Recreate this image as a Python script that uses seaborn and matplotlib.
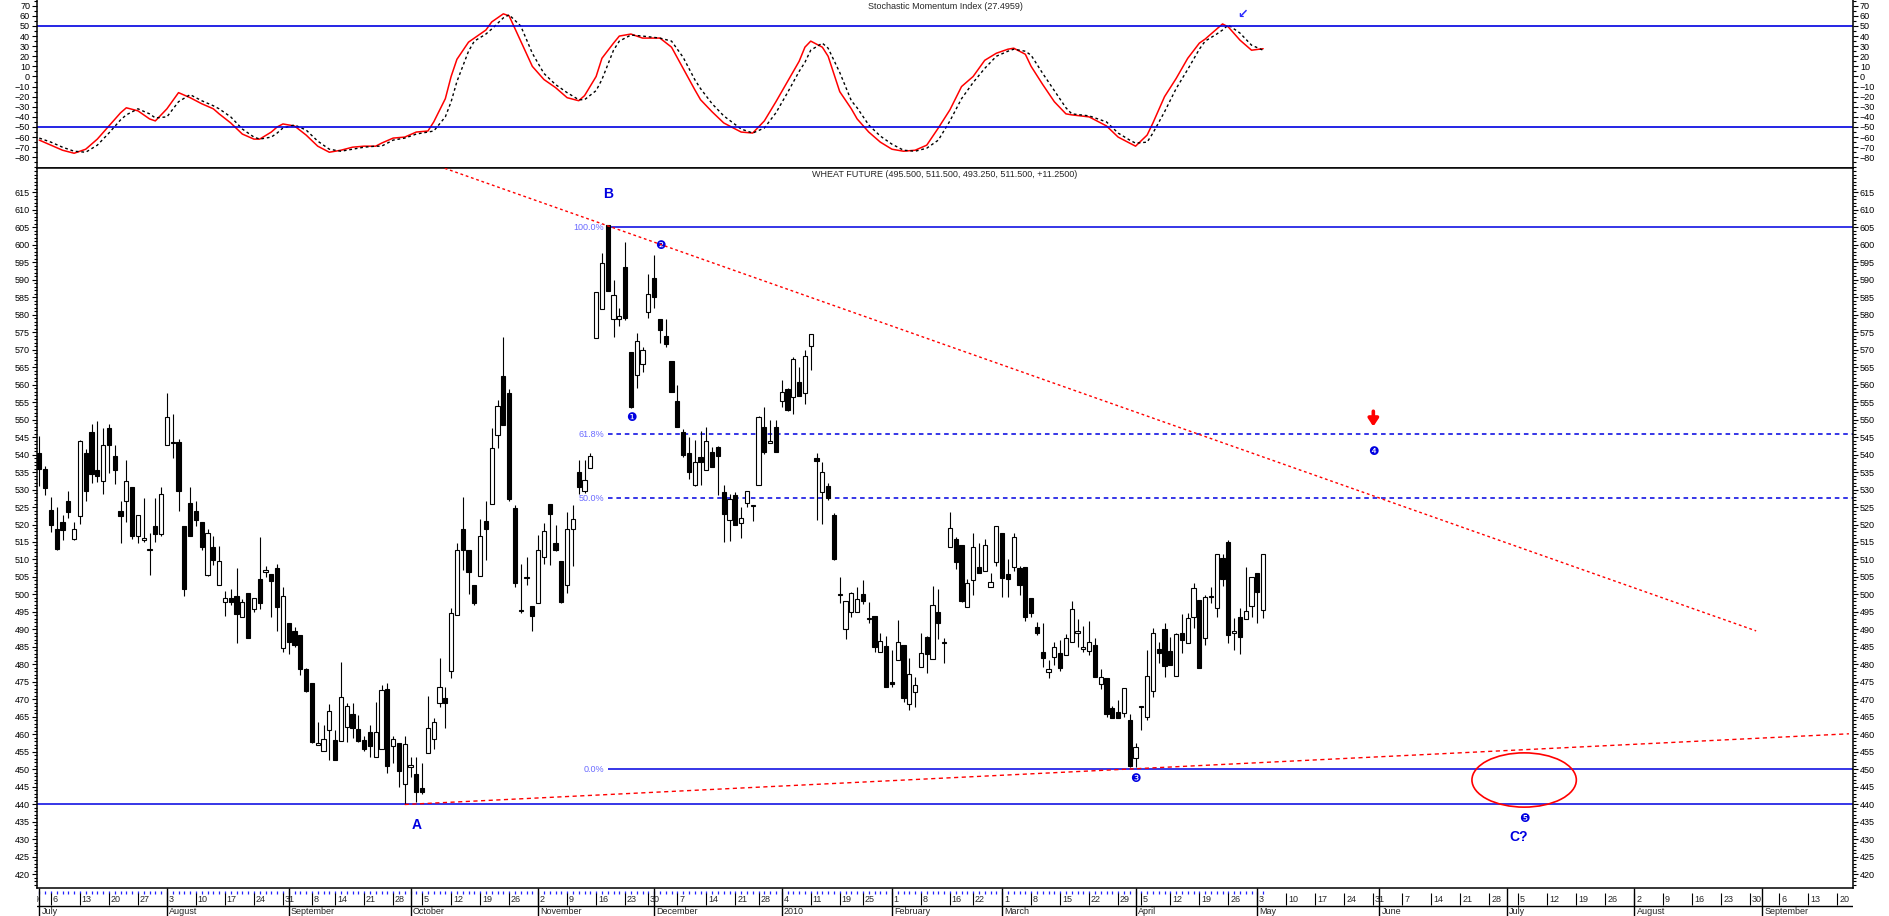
import numpy as np
import pandas as pd
import matplotlib
matplotlib.use("Agg")
import matplotlib.pyplot as plt
from matplotlib.ticker import MultipleLocator
from matplotlib.patches import Ellipse
import seaborn as sns

# =============================================================================
# DATA
# =============================================================================

# daily bars, Wheat future, 2009-07-01 .. 2010-05-04
open_ = [540.3, 535.9, 524.1, 518.6, 520.7, 526.7, 515.9, 522.5, 540.4, 546.4,
         535.6, 532.5, 547.6, 539.6, 523.9, 526.6, 530.6, 516.6, 515.5, 512.6,
         519.5, 517.3, 542.6, 543.5, 543.5, 519.5, 526.1, 523.9, 520.7, 505.5,
         513.5, 502.6, 497.8, 498.9, 499.7, 493.5, 500.3, 495.8, 504.3, 506.3,
         505.9, 507.6, 484.7, 491.8, 489.5, 488.3, 478.6, 474.6, 457.1, 455.3,
         461.3, 458.4, 458.1, 462.0, 465.9, 461.5, 458.4, 460.7, 453.5, 455.9,
         473.0, 456.7, 457.5, 445.8, 450.7, 448.6, 444.7, 454.6, 458.6, 468.9,
         470.3, 478.0, 494.1, 518.6, 512.7, 502.7, 505.3, 521.0, 525.9, 545.6,
         562.4, 557.5, 524.6, 495.3, 504.6, 496.8, 497.7, 510.8, 526.0, 514.6,
         509.6, 502.7, 518.7, 534.9, 529.6, 536.1, 573.2, 581.5, 605.6, 578.6,
         578.7, 593.5, 569.4, 562.7, 566.0, 580.6, 590.3, 578.6, 573.9, 566.7,
         555.3, 546.5, 540.3, 531.3, 539.2, 535.6, 540.8, 542.2, 529.2, 521.3,
         528.4, 520.3, 526.2, 525.3, 531.3, 547.8, 543.2, 547.9, 555.3, 558.6,
         556.3, 560.8, 557.5, 571.0, 538.9, 529.2, 531.0, 522.7, 499.9, 490.1,
         494.9, 494.9, 500.1, 492.9, 493.9, 483.5, 485.3, 475.1, 481.3, 485.6,
         468.7, 472.0, 479.2, 487.8, 481.5, 495.1, 486.2, 513.5, 515.8, 514.1,
         496.3, 504.1, 507.8, 506.7, 502.2, 509.2, 517.5, 505.8, 507.8, 507.5,
         507.8, 498.9, 490.6, 483.7, 477.9, 482.2, 483.2, 482.7, 486.5, 488.9,
         484.4, 483.9, 485.6, 474.4, 476.0, 467.5, 466.3, 466.0, 464.1, 453.4,
         467.8, 465.1, 472.5, 484.4, 490.0, 483.9, 476.8, 489.1, 486.0, 493.5,
         498.4, 487.5, 499.2, 496.0, 510.3, 514.9, 488.9, 493.5, 492.9, 496.7,
         506.2, 495.5]
high = [545.3, 536.7, 527.9, 525.1, 522.7, 529.6, 520.6, 544.1, 541.5, 548.7,
        549.6, 547.5, 548.7, 542.7, 526.7, 538.4, 530.6, 522.6, 527.6, 517.5,
        527.6, 530.7, 557.6, 551.6, 544.4, 519.5, 530.7, 526.7, 520.7, 518.6,
        516.7, 513.8, 501.0, 501.6, 507.6, 498.7, 500.3, 498.9, 516.5, 508.1,
        505.9, 508.7, 502.1, 491.8, 490.8, 488.3, 478.9, 474.6, 463.7, 462.7,
        468.6, 461.3, 480.6, 468.9, 469.1, 465.6, 459.6, 462.7, 469.3, 474.1,
        474.8, 459.6, 457.5, 459.6, 453.7, 453.7, 451.8, 471.0, 464.6, 481.8,
        473.7, 496.0, 514.6, 527.9, 512.7, 502.7, 521.5, 526.8, 547.5, 555.6,
        573.7, 558.6, 525.6, 508.7, 510.6, 496.8, 517.0, 520.3, 526.0, 519.9,
        509.6, 523.7, 525.6, 538.4, 538.4, 540.5, 586.5, 597.5, 605.6, 590.0,
        581.8, 600.6, 569.4, 574.8, 570.6, 591.5, 596.9, 578.6, 578.6, 566.7,
        559.9, 547.2, 545.1, 544.1, 546.8, 547.9, 542.2, 542.5, 531.3, 528.7,
        529.2, 525.1, 529.7, 525.3, 551.0, 553.7, 550.0, 550.0, 561.3, 558.9,
        567.9, 564.9, 569.9, 574.3, 540.3, 537.9, 531.8, 523.2, 504.9, 498.2,
        500.6, 502.0, 504.1, 497.8, 493.9, 488.9, 488.1, 484.0, 492.7, 485.6,
        481.8, 476.3, 488.9, 488.1, 502.4, 501.6, 487.5, 523.6, 516.5, 514.1,
        504.3, 517.5, 514.6, 515.8, 506.0, 519.7, 517.5, 510.0, 517.5, 508.0,
        507.8, 498.9, 492.0, 491.8, 481.3, 486.3, 487.0, 488.7, 498.2, 492.9,
        491.0, 492.4, 487.5, 478.6, 476.0, 468.1, 469.9, 473.2, 465.8, 457.5,
        468.0, 484.0, 490.3, 486.3, 491.9, 487.8, 489.1, 494.3, 494.6, 503.2,
        498.4, 499.9, 502.0, 511.5, 511.5, 515.6, 493.2, 496.0, 507.8, 505.1,
        506.2, 511.5]
low = [531.0, 528.4, 517.9, 512.7, 515.6, 521.9, 515.6, 520.1, 526.7, 532.0,
       532.2, 528.7, 534.7, 531.6, 514.8, 520.8, 515.8, 514.8, 514.9, 505.6,
       515.1, 516.8, 542.6, 539.1, 523.9, 499.6, 516.8, 519.7, 512.7, 505.3,
       508.5, 502.6, 493.9, 497.0, 486.2, 493.5, 487.6, 495.1, 495.8, 505.1,
       493.6, 489.7, 483.7, 482.9, 485.1, 477.0, 472.2, 457.6, 457.1, 455.3,
       452.7, 452.7, 458.1, 457.8, 458.9, 457.8, 455.4, 453.7, 453.5, 455.9,
       448.9, 451.8, 444.9, 440.0, 447.8, 440.6, 442.9, 454.6, 455.9, 467.8,
       461.8, 476.0, 494.1, 507.0, 500.0, 497.0, 505.3, 509.9, 525.9, 541.8,
       548.4, 526.8, 502.2, 494.8, 502.7, 489.7, 497.7, 508.7, 508.4, 512.5,
       497.5, 500.3, 508.2, 528.7, 528.9, 536.1, 573.2, 581.5, 586.8, 573.7,
       576.8, 578.4, 553.2, 558.9, 563.7, 578.9, 581.8, 571.8, 570.8, 557.8,
       547.8, 539.4, 533.0, 531.0, 531.3, 535.6, 536.5, 528.4, 514.9, 515.4,
       519.9, 516.2, 524.9, 521.1, 531.3, 540.1, 543.2, 540.8, 553.7, 552.4,
       551.5, 556.8, 554.3, 564.1, 521.3, 520.1, 527.0, 509.9, 497.5, 487.2,
       493.5, 494.9, 497.2, 491.9, 483.7, 483.5, 473.5, 473.7, 481.3, 469.4,
       467.0, 467.8, 479.2, 477.5, 481.5, 487.2, 480.5, 513.5, 507.2, 497.9,
       496.3, 499.9, 506.0, 506.7, 502.2, 508.0, 499.4, 499.4, 506.8, 499.9,
       492.5, 493.5, 488.4, 479.2, 476.0, 479.9, 478.0, 482.7, 486.5, 485.1,
       483.7, 482.7, 476.3, 472.9, 464.9, 464.6, 464.6, 465.1, 450.8, 450.8,
       461.3, 464.1, 470.8, 480.3, 476.5, 479.9, 476.8, 483.4, 486.0, 490.3,
       478.9, 485.6, 497.5, 493.7, 502.4, 486.0, 484.0, 483.0, 492.9, 493.7,
       491.9, 493.25]
close = [535.9, 530.5, 519.8, 513.0, 518.5, 523.7, 518.6, 543.8, 529.6, 534.5,
         534.0, 542.6, 542.7, 535.7, 522.5, 532.5, 516.8, 522.6, 516.0, 512.6,
         517.2, 528.6, 550.6, 543.3, 529.6, 501.7, 516.8, 521.4, 513.7, 517.5,
         509.9, 509.5, 498.9, 497.8, 494.5, 497.8, 487.6, 498.9, 497.6, 507.0,
         503.9, 496.5, 499.5, 486.5, 485.6, 478.6, 472.5, 457.9, 457.2, 458.6,
         466.6, 452.7, 470.8, 468.1, 461.8, 458.1, 455.8, 456.8, 460.7, 472.7,
         451.1, 458.7, 449.7, 457.3, 451.2, 443.7, 443.7, 461.8, 463.5, 473.7,
         468.9, 494.6, 512.7, 512.7, 506.5, 497.7, 516.7, 518.6, 542.0, 554.0,
         548.4, 527.3, 503.2, 495.3, 504.6, 493.9, 512.7, 518.0, 522.9, 512.7,
         497.9, 518.6, 521.5, 530.6, 532.7, 539.6, 586.5, 594.6, 586.8, 585.5,
         579.6, 578.9, 553.7, 572.5, 570.0, 586.0, 584.9, 575.6, 571.6, 557.9,
         547.8, 539.8, 534.9, 537.9, 537.9, 543.9, 536.5, 539.6, 522.9, 527.2,
         519.9, 521.9, 529.7, 525.3, 550.6, 540.8, 543.9, 540.8, 557.8, 552.7,
         567.2, 556.8, 568.1, 574.3, 538.1, 535.1, 527.7, 510.1, 499.9, 498.2,
         500.5, 498.6, 498.0, 492.9, 485.1, 486.8, 473.5, 474.4, 486.5, 470.3,
         477.3, 474.0, 483.2, 482.9, 496.9, 491.9, 486.2, 518.9, 509.4, 498.2,
         503.2, 513.5, 506.2, 514.0, 503.5, 519.7, 504.8, 504.3, 516.5, 502.7,
         493.5, 494.6, 489.1, 481.8, 478.6, 485.1, 478.9, 487.5, 495.8, 489.6,
         484.9, 486.5, 476.3, 476.3, 465.9, 464.8, 464.8, 473.2, 451.0, 456.3,
         467.8, 476.8, 488.9, 483.2, 479.7, 479.9, 488.6, 487.0, 493.2, 501.8,
         478.9, 499.2, 499.2, 511.5, 504.3, 488.4, 489.7, 487.8, 495.4, 505.1,
         500.8, 511.5]

first_bar = "2009-07-01"
holidays = ["2009-07-03", "2009-09-07", "2009-11-26", "2009-12-25",
            "2010-01-01", "2010-01-18", "2010-02-15", "2010-04-02"]

# stochastic momentum index, sampled by bar number
smi_bar = [0, 2, 4, 6, 8, 10, 12, 14, 15, 17, 19, 20, 22, 24, 26, 28, 30, 31,
           33, 35, 37, 38, 40, 41, 42, 44, 46, 48, 50, 52, 54, 56, 58, 59, 61,
           63, 65, 67, 68, 70, 71, 72, 74, 75, 77, 78, 80, 81, 83, 85, 87, 89,
           91, 93, 94, 96, 97, 99, 100, 102, 104, 107, 109, 111, 113, 114, 116,
           118, 121, 123, 125, 127, 129, 131, 132, 133, 135, 136, 138, 140, 141,
           143, 145, 147, 149, 151, 153, 155, 157, 159, 161, 163, 165, 167, 168,
           170, 171, 173, 175, 177, 178, 181, 184, 186, 188, 189, 191, 192, 194,
           196, 198, 200, 201, 203, 204, 205, 207, 209, 211]
smi_line = [-63, -68, -73, -76, -72, -62, -49, -36, -31, -34, -42, -44, -32,
            -16, -21, -27, -32, -37, -46, -57, -62, -62, -55, -50, -47, -49,
            -58, -69, -75, -73, -70, -69, -69, -66, -61, -60, -55, -54, -45,
            -22, 0, 17, 34, 38, 46, 54, 62, 60, 35, 10, -3, -11, -21, -24, -19,
            0, 18, 33, 40, 42, 38, 38, 29, 8, -13, -23, -35, -46, -55, -56,
            -44, -25, -5, 15, 29, 35, 29, 20, -15, -32, -42, -55, -65, -72,
            -74, -73, -68, -51, -33, -10, 0, 16, 23, 27, 28, 22, 10, -8, -25,
            -37, -38, -40, -49, -60, -66, -69, -58, -46, -20, -2, 18, 33, 37,
            47, 52, 49, 36, 26, 27.5]
smi_signal = [-61, -65, -70, -74, -75, -68, -56, -43, -38, -32, -37, -41, -40,
              -25, -18, -24, -29, -32, -40, -52, -60, -62, -60, -56, -51, -48,
              -53, -64, -72, -74, -72, -70, -69, -69, -63, -61, -57, -55, -54,
              -40, -25, -5, 25, 35, 42, 47, 58, 61, 50, 23, 3, -8, -16, -23,
              -23, -14, -3, 26, 35, 41, 40, 38, 35, 19, -3, -12, -27, -39, -52,
              -56, -51, -36, -16, 5, 14, 26, 33, 28, 4, -24, -31, -48, -59, -67,
              -73, -74, -71, -63, -44, -22, -6, 8, 20, 25, 27, 25, 21, 3, -14,
              -31, -37, -39, -45, -56, -63, -66, -65, -56, -35, -12, 7, 27, 35,
              42, 46, 51, 43, 31, 26]
smi_bands = [50, -50]
smi_ticks = list(range(-80, 71, 10))

# fibonacci retracement from B down to the March low
fib_start = "2009-11-18"
fib_levels = [605.0, 545.8, 527.5, 450.0]
fib_labels = ["100.0%", "61.8%", "50.0%", "0.0%"]
fib_styles = ["-", (0, (3, 2.5)), (0, (3, 2.5)), "-"]
base_level = 440.0

# hand drawn trend lines (date, price)
upper_trend_dates = ["2009-10-08", "2010-08-31"]
upper_trend_price = [622.3, 489.6]
lower_trend_dates = ["2009-09-30", "2010-09-22"]
lower_trend_price = [440.0, 460.2]

# wave labels
wave_text = ["A", "B", "C?"]
wave_dates = ["2009-10-02", "2009-11-18", "2010-07-05"]
wave_price = [434.0, 614.5, 430.8]
count_text = ["\u2776", "\u2777", "\u2778", "\u2779", "\u277a"]
count_dates = ["2009-11-24", "2009-12-02", "2010-04-01", "2010-05-31", "2010-07-06"]
count_price = [550.6, 599.7, 447.5, 540.8, 436.1]
sell_date, sell_price = "2010-05-31", 550.5
smi_mark_bar, smi_mark_value = 207.5, 61.0

target_date = "2010-07-06"
target_price = 447.0
target_days = 18
target_range = 15.5

# =============================================================================
# CALENDAR (trading days up to the last bar, plain weekdays after it)
# =============================================================================

cal = pd.bdate_range("2009-06-29", "2010-09-24")
cal = cal[~cal.isin(pd.to_datetime(holidays))]
pos = pd.Series(np.arange(len(cal)) - 2, index=cal)   # 2009-07-01 -> 0
bar_dates = cal[cal >= pd.Timestamp(first_bar)][:len(open_)]
x = pos[bar_dates].values


def px(d):
    return pos[pd.Timestamp(d)]


xmin, xmax = -0.4, 312.7

# =============================================================================
# FIGURE
# =============================================================================

sns.set_style("white")
plt.rcParams['font.family'] = ['Liberation Sans', 'DejaVu Sans']

fig = plt.figure(figsize=(18.9, 9.16), dpi=100)
L, W = 37 / 1890, (1853 - 37) / 1890
ax_top = fig.add_axes([L, 1 - 168 / 916, W, 168 / 916])
ax = fig.add_axes([L, 28 / 916, W, 720 / 916])
ax_d = fig.add_axes([L, 0, W, 28 / 916])

blue = '#0000e0'

# ---- stochastic momentum index ----
sns.lineplot(x=smi_bar, y=smi_line, color='red', lw=1.1, ax=ax_top)
sns.lineplot(x=smi_bar, y=smi_signal, color='black', lw=1.0,
             linestyle=(0, (2, 2)), ax=ax_top)
for b in smi_bands:
    ax_top.axhline(b, color=blue, lw=1.2)
ax_top.set_ylim(-90.6, 75.7)
ax_top.set_yticks(smi_ticks)
ax_top.yaxis.set_minor_locator(MultipleLocator(5))
ax_top.text(0.5, 0.96, "Stochastic Momentum Index (27.4959)",
            transform=ax_top.transAxes, ha='center', va='center', fontsize=6.5)
ax_top.text(smi_mark_bar, smi_mark_value, "\u2199", ha='center', va='center',
            color='#2a2aff', fontsize=9, fontweight='bold', family=['DejaVu Sans'])

# ---- candles ----
o, h, l, c = map(np.array, (open_, high, low, close))
up = c >= o
ax.vlines(x, l, h, color='black', lw=0.8, zorder=2)
ax.bar(x, np.maximum(np.abs(c - o), 0.35), bottom=np.minimum(o, c), width=0.72,
       color=np.where(up, 'white', 'black'), edgecolor='black', linewidth=0.8,
       zorder=3)

# ---- fibonacci and base lines ----
fs = px(fib_start)
for lev, lab, ls in zip(fib_levels, fib_labels, fib_styles):
    ax.hlines(lev, fs, xmax, colors=blue, linestyles=[ls], lw=1.1, zorder=1)
    ax.text(fs - 0.6, lev, lab, ha='right', va='center', color='#6b6bff',
            fontsize=6.5)
ax.axhline(base_level, color=blue, lw=1.1, zorder=1)

# ---- trend lines ----
ax.plot([px(d) for d in upper_trend_dates], upper_trend_price, color='red',
        lw=1.0, linestyle=(0, (2, 2)), zorder=4)
ax.plot([px(d) for d in lower_trend_dates], lower_trend_price, color='red',
        lw=1.0, linestyle=(0, (3, 2.5)), zorder=4)

# ---- target ellipse ----
ax.add_patch(Ellipse((px(target_date), target_price), target_days, target_range,
                     fill=False, edgecolor='red', lw=1.2, zorder=4))

# ---- labels ----
for t, d, p in zip(wave_text, wave_dates, wave_price):
    ax.text(px(d), p, t, ha='center', va='center', color=blue, fontsize=10,
            fontweight='bold')
for t, d, p in zip(count_text, count_dates, count_price):
    ax.text(px(d), p, t, ha='center', va='center', color=blue, fontsize=8.5,
            family=['DejaVu Sans'])
ax.annotate("", xy=(px(sell_date), sell_price - 2.5), xytext=(0, 11),
            textcoords='offset points',
            arrowprops=dict(arrowstyle='-|>,head_width=0.3,head_length=0.45',
                            color='red', lw=2.6, shrinkA=0, shrinkB=0))
ax.text(0.5, 0.9915, "WHEAT FUTURE (495.500, 511.500, 493.250, 511.500, +11.2500)",
        transform=ax.transAxes, ha='center', va='center', fontsize=6.5)

ax.set_ylim(416.14, 621.86)
ax.set_yticks(np.arange(420, 616, 5))
ax.yaxis.set_minor_locator(MultipleLocator(1))

for a in (ax_top, ax):
    a.set_xlim(xmin, xmax)
    a.set_xticks([])
    a.set_xlabel("")
    a.set_ylabel("")
    a.tick_params(axis='y', which='both', left=True, right=True,
                  labelleft=True, labelright=True, direction='out',
                  labelsize=6.5, pad=1.5, width=0.8, colors='black')
    a.tick_params(axis='y', which='major', length=3.5)
    a.tick_params(axis='y', which='minor', length=2)
    for s in a.spines.values():
        s.set_color('black')
        s.set_linewidth(1.1)
ax_top.spines['top'].set_visible(False)

# ---- date axis ----
ax_d.set_xlim(xmin, xmax)
ax_d.set_ylim(0, 1)
ax_d.axis('off')
ax_d.vlines(x, 0.80, 0.90, color='#2020ff', lw=0.9)
cal_s = cal.to_series()
week_first = cal_s.groupby(cal.to_period('W')).min()
for d in week_first:
    p = pos[d]
    ax_d.vlines(p, 0.39, 0.83, color='black', lw=0.8)
    ax_d.text(p + 0.3, 0.6, str(d.day), ha='left', va='center', fontsize=6.5,
              clip_on=True)
month_first = cal_s.groupby(cal.to_period('M')).min()
for d in month_first:
    if d < pd.Timestamp(first_bar):
        continue
    p = pos[d]
    ax_d.vlines(p, 0, 1, color='black', lw=1.0)
    name = "2010" if (d.month == 1) else d.strftime("%B")
    ax_d.text(p + 0.4, 0.15, name, ha='left', va='center', fontsize=6.5,
              clip_on=True)
ax_d.axhline(0.37, color='black', lw=1.0)

fig.savefig("out.png", dpi=100)
